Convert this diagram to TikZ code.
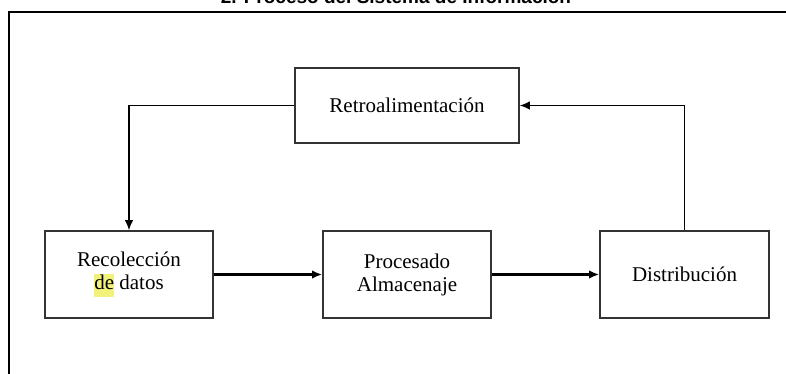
\documentclass[tikz,border=0pt]{standalone}
\usepackage{fontspec}
\setmainfont{Liberation Serif}
\newfontfamily\titlefont{Liberation Sans}
\usepackage{tikz}
\usetikzlibrary{arrows,arrows.meta,positioning,calc}
\tikzset{>={Latex[length=10pt,width=8.5pt]}}
\definecolor{hlyellow}{HTML}{F2F27A}
\definecolor{boxgray}{HTML}{333333}
\tikzset{
  box/.style={draw=boxgray, line width=1.6pt, align=center, inner sep=0pt,
    font=\fontsize{21}{23}\selectfont},
  loopline/.style={->, line width=1.3pt},
  flowline/.style={->, line width=2.4pt},
}
\setlength{\fboxsep}{0pt}
\begin{document}
\begin{tikzpicture}[x=1pt,y=-1pt]
            \useasboundingbox (0,0) rectangle (786,374);
            % title and frame
            \node[font=\titlefont\bfseries\fontsize{19}{22}\selectfont, anchor=base] (title) at (396,3.5) {2. Proceso del Sistema de Informaci\'on};
            \draw[line width=1.6pt] (9,380) -- (9,12) -- (790,12);

            % boxes
            \node[box, minimum width=224pt, minimum height=75pt] (retro) at (407,105.5) {Retroalimentaci\'on};
            \node[box, minimum width=168pt, minimum height=87pt] (recol) at (129,274.5) {Recolecci\'on\\\colorbox{hlyellow}{\strut de} datos};
            \node[box, minimum width=168pt, minimum height=87pt] (proc) at (407,274.5) {Procesado\\Almacenaje};
            \node[box, minimum width=169pt, minimum height=87pt] (distr) at (684.5,274.5) {Distribuci\'on};

            % connectors
            \draw[flowline] (recol) -- (proc);
            \draw[flowline] (proc) -- (distr);
            \draw[loopline] (retro.west) -| (recol.north);
            \draw[loopline] (distr.north) |- (retro.east);
\end{tikzpicture}
\end{document}
